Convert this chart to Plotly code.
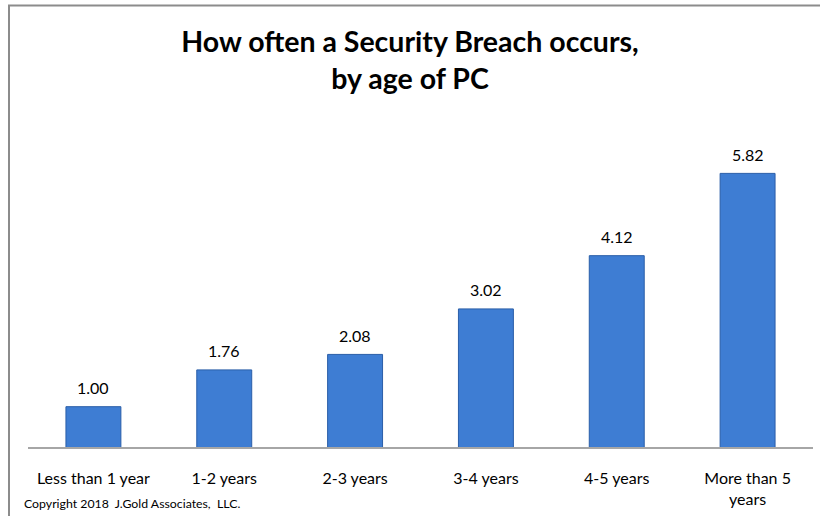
import plotly.graph_objects as go

categories = ["Less than 1 year", "1-2 years", "2-3 years", "3-4 years", "4-5 years", "More than 5<br>years"]
values = [1.00, 1.76, 2.08, 3.02, 4.12, 5.82]
labels = ["1.00", "1.76", "2.08", "3.02", "4.12", "5.82"]

W, H = 820, 516
ml, mr, mt, mb = 28, 7, 100, 69
pw, ph = W - ml - mr, H - mt - mb

def px(x):
    return (x - ml) / pw

def py(y):
    return (H - mb - y) / ph

fig = go.Figure(go.Bar(
    x=categories, y=values,
    marker=dict(color="#3E7DD3", line=dict(color="#2A5EA8", width=1)),
))

annotations = [dict(x=c, y=v, text=t, xref="x", yref="y", showarrow=False,
                    yanchor="middle", yshift=19,
                    font=dict(family="Lato", size=16, color="#000000"))
               for c, v, t in zip(categories, values, labels)]
annotations.append(dict(text="Copyright 2018  J.Gold Associates,  LLC.", xref="paper", yref="paper",
                        x=px(22), y=py(503), xanchor="left", yanchor="middle", showarrow=False,
                        font=dict(family="Lato", size=12.3, color="#000000")))

fig.update_layout(
    width=W, height=H,
    margin=dict(l=ml, r=mr, t=mt, b=mb),
    paper_bgcolor="white", plot_bgcolor="white",
    bargap=0.58,
    showlegend=False,
    font=dict(family="Lato", color="#000000"),
    title=dict(text="<b>How often a Security Breach occurs,<br>by age of PC</b>",
               x=0.5, xanchor="center", y=1 - 52 / H, yanchor="middle",
               font=dict(family="Lato", size=28.5, color="#000000")),
    xaxis=dict(showline=True, linecolor="#A6A6A6", linewidth=2, showgrid=False,
               ticks="", tickfont=dict(family="Lato", size=16, color="#000000"),
               ticklabelstandoff=16),
    yaxis=dict(range=[0.167, 0.167 + ph / 48.4], visible=False, showgrid=False,
               zeroline=False),
    shapes=[dict(type="rect", xref="paper", yref="paper",
                 x0=px(9), x1=px(830), y0=py(530), y1=py(5.5),
                 line=dict(color="#8C8C8C", width=2), fillcolor="rgba(0,0,0,0)",
                 layer="below")],
    annotations=annotations,
)

fig.write_html("out.html")
